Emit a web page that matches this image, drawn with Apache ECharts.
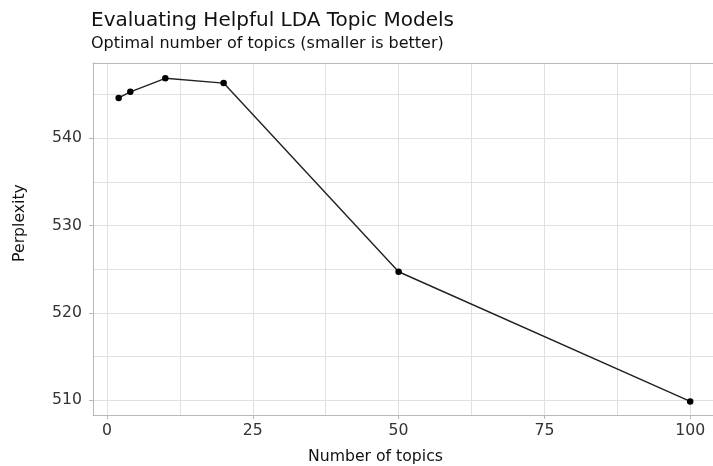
<!DOCTYPE html>
<html>
<head>
<meta charset="utf-8">
<script src="https://cdn.jsdelivr.net/npm/echarts@6/dist/echarts.min.js"></script>
<style>
html,body{margin:0;padding:0;background:#fff;}
#chart{width:713px;height:466px;}
</style>
</head>
<body>
<div id="chart"></div>
<script>
// Data
var topics = [2, 4, 10, 20, 50, 100];
var perplexity = [544.6, 545.3, 546.85, 546.3, 524.7, 509.85];
// Ticks
var xMajor = [0, 25, 50, 75, 100];
var xMinor = [12.5, 37.5, 62.5, 87.5];
var yMajor = [510, 520, 530, 540];
var yMinor = [515, 525, 535, 545];
var titleText = 'Evaluating Helpful LDA Topic Models';
var subtitleText = 'Optimal number of topics (smaller is better)';
var xName = 'Number of topics';
var yName = 'Perplexity';

var FONT = 'DejaVu Sans';
var gridColor = '#e0e0e0';
var borderColor = '#b8b8b8';
var labelColor = '#333333';

var chart = echarts.init(document.getElementById('chart'), null, {renderer: 'canvas'});
var xMin = -2.4, xMax = 104.6, yMin = 508.3, yMax = 548.6;

function hiddenAxis(min, max, custom, pos, showLine) {
  return {
    type: 'value', min: min, max: max, position: pos,
    axisLine: {show: !!showLine, onZero: false, lineStyle: {color: borderColor, width: 1}},
    axisLabel: {show: false},
    axisTick: {show: false, customValues: custom},
    splitLine: {show: true, lineStyle: {color: gridColor, width: 1}}
  };
}

var option = {
  animation: false,
  backgroundColor: '#ffffff',
  title: [
    {text: titleText, left: 91, top: 11, padding: 0,
     textStyle: {fontFamily: FONT, fontSize: 20, fontWeight: 'normal', color: '#111'}},
    {text: subtitleText, left: 91, top: 36, padding: 0,
     textStyle: {fontFamily: FONT, fontSize: 16, fontWeight: 'normal', color: '#111'}}
  ],
  grid: {left: 93, top: 63, width: 624, bottom: 51, show: false,
         outerBoundsMode: 'none', containLabel: false},
  xAxis: [
    {
      type: 'value', min: xMin, max: xMax, position: 'bottom',
      axisLine: {show: true, onZero: false, lineStyle: {color: borderColor, width: 1}},
      axisTick: {show: true, length: 4, customValues: xMajor, lineStyle: {color: borderColor}},
      axisLabel: {show: true, customValues: xMajor, margin: 8, fontFamily: FONT, fontSize: 15.7, color: labelColor},
      splitLine: {show: true, lineStyle: {color: gridColor, width: 1}}
    },
    hiddenAxis(xMin, xMax, xMinor, 'top', true)
  ],
  yAxis: [
    {
      type: 'value', min: yMin, max: yMax, position: 'left',
      axisLine: {show: true, onZero: false, lineStyle: {color: borderColor, width: 1}},
      axisTick: {show: true, length: 4, customValues: yMajor, lineStyle: {color: borderColor}},
      axisLabel: {show: true, customValues: yMajor, margin: 11, fontFamily: FONT, fontSize: 15.7, color: labelColor},
      splitLine: {show: true, lineStyle: {color: gridColor, width: 1}}
    },
    hiddenAxis(yMin, yMax, yMinor, 'right', false)
  ],
  graphic: [
    {type: 'text', x: 375.5, y: 457, style: {text: xName, fontFamily: FONT, fontSize: 15.7, fill: '#111', align: 'center', verticalAlign: 'middle'}},
    {type: 'text', x: 20, y: 223, rotation: Math.PI / 2, style: {text: yName, fontFamily: FONT, fontSize: 15.7, fill: '#111', align: 'center', verticalAlign: 'middle'}}
  ],
  series: [{
    type: 'line',
    xAxisIndex: 0, yAxisIndex: 0,
    data: topics.map(function (t, i) { return [t, perplexity[i]]; }),
    symbol: 'circle', symbolSize: 6.5,
    itemStyle: {color: '#000'},
    lineStyle: {color: '#222', width: 1.4},
    z: 5
  }]
};
chart.setOption(option);
</script>
</body>
</html>
